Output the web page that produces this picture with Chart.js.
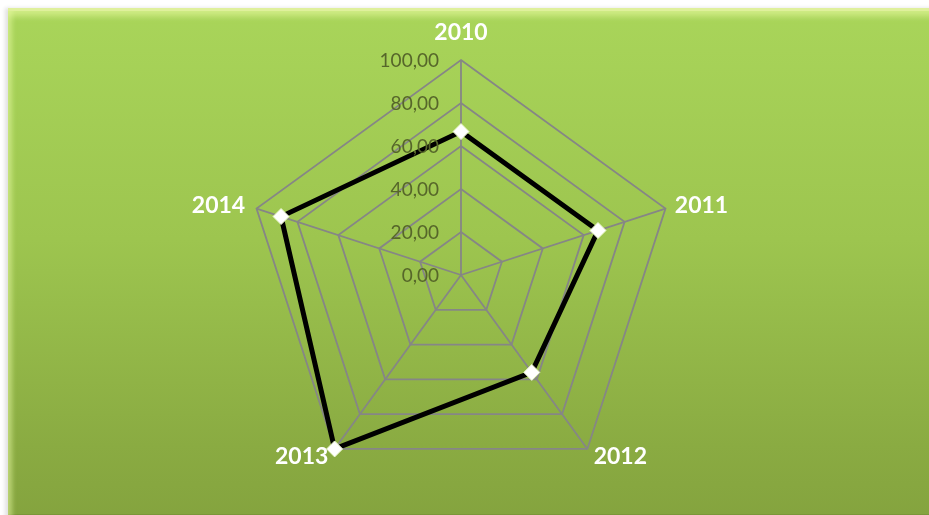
<!DOCTYPE html>
<html>
<head>
<meta charset="utf-8">
<script src="https://cdn.jsdelivr.net/npm/chart.js@4.4.1/dist/chart.umd.min.js"></script>
<style>
  html, body { margin: 0; padding: 0; background: #fff; overflow: hidden; }
  #panel {
    position: absolute; left: 8px; top: 8px; width: 940px; height: 515px;
    background: linear-gradient(to bottom, #a9d55a 0%, #9dc54f 45%, #8aab42 85%, #84a33e 100%);
    box-shadow: -3px 0 4px rgba(0,0,0,0.12),
      inset 0 3px 0 #dff09c, inset 0 8px 6px rgba(240,255,170,0.55),
      inset 5px 0 4px rgba(230,250,160,0.35), inset 0 -9px 0 rgba(90,110,40,0.25);
  }
  #wrap { position: absolute; left: 0; top: 0; width: 929px; height: 515px; }
</style>
</head>
<body>
<div id="panel"></div>
<div id="wrap"><canvas id="chart" width="929" height="515"></canvas></div>
<script>
const years = ['2010', '2011', '2012', '2013', '2014'];
const values = [66.7, 67, 56, 100, 88];
const tickValues = [0, 20, 40, 60, 80, 100];

const fmt = v => v.toFixed(2).replace('.', ',');

// labels drawn around the web, positioned via the scale
const labelOffsets = [
  { dx: 0, dy: -27 },
  { dx: 36, dy: -3 },
  { dx: 33, dy: 8 },
  { dx: -33, dy: 8 },
  { dx: -38, dy: -3 }
];

const radarText = {
  id: 'radarText',
  afterDatasetsDraw(chart) {
    const scale = chart.scales.r;
    const ctx = chart.ctx;
    ctx.save();
    // tick labels
    ctx.font = '19px Lato';
    ctx.fillStyle = '#56662a';
    ctx.textAlign = 'right';
    ctx.textBaseline = 'middle';
    tickValues.forEach(v => {
      const d = scale.getDistanceFromCenterForValue(v);
      ctx.fillText(fmt(v), scale.xCenter - 22, scale.yCenter - d + 1);
    });
    // point labels
    ctx.font = 'bold 23px Lato';
    ctx.fillStyle = '#ffffff';
    ctx.textAlign = 'center';
    years.forEach((y, i) => {
      const p = scale.getPointPosition(i, scale.drawingArea);
      ctx.fillText(y, p.x + labelOffsets[i].dx, p.y + labelOffsets[i].dy);
    });
    ctx.restore();
  }
};

new Chart(document.getElementById('chart'), {
  type: 'radar',
  data: {
    labels: years,
    datasets: [{
      data: values,
      borderColor: '#000000',
      borderWidth: 5,
      fill: false,
      pointStyle: 'rectRot',
      pointRadius: 8,
      pointBackgroundColor: '#ffffff',
      pointBorderColor: '#e8f5c8',
      pointBorderWidth: 1
    }]
  },
  options: {
    responsive: false,
    animation: false,
    layout: { padding: { top: 60, bottom: 25, left: 100, right: 107 } },
    plugins: { legend: { display: false }, tooltip: { enabled: false } },
    scales: {
      r: {
        min: 0,
        max: 100,
        ticks: { display: false, stepSize: 20 },
        pointLabels: { display: false },
        grid: { color: '#868686', lineWidth: 1.8 },
        angleLines: { color: '#868686', lineWidth: 1.8 }
      }
    }
  },
  plugins: [radarText]
});
</script>
</body>
</html>
